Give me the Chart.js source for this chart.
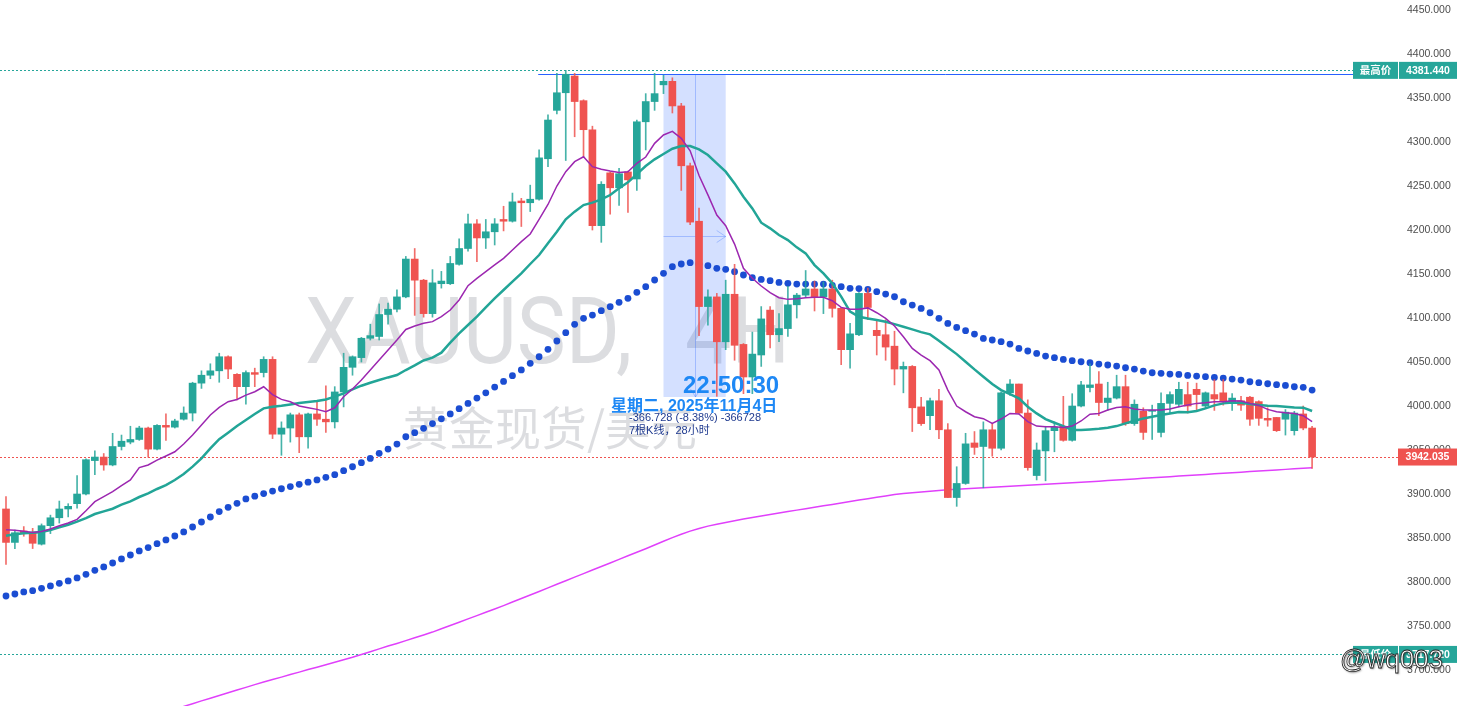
<!DOCTYPE html>
<html><head><meta charset="utf-8">
<script src="https://cdn.jsdelivr.net/npm/chart.js@4.4.1/dist/chart.umd.min.js"></script>
<style>html,body{margin:0;padding:0;background:#fff;overflow:hidden}canvas{display:block}</style>
</head><body>
<canvas id="c" width="1460" height="706"></canvas>
<script>
// ---- Data (4H candles, XAUUSD) ----
const opens = [3883,3845,3858,3856,3843,3864,3873,3883,3889,3900,
3938,3942,3933,3954,3959,3962,3975,3951,3978,3976,
3985,3992,4026,4035,4040,4056,4036,4022,4038,4038,
4053,3968,3975,3990,3965,3991,3985,3982,4016,4044,
4055,4077,4079,4104,4110,4124,4167,4143,4105,4139,
4139,4161,4179,4207,4191,4198,4212,4210,4233,4231,
4235,4281,4336,4356,4375,4347,4314,4205,4265,4248,
4266,4258,4323,4346,4365,4369,4341,4273,4210,4113,
4124,4073,4127,4070,4033,4058,4109,4081,4088,4115,
4126,4133,4124,4133,4111,4064,4081,4128,4086,4081,
4068,4042,4045,3999,3989,4006,3973,3896,3912,3958,
3954,3973,3952,4015,4025,3992,3921,3949,3972,3977,
3961,4000,4021,4025,4004,4009,4022,3980,3994,3994,
3970,4003,4002,4013,4019,4000,4013,4015,4005,4006,
4010,4005,3986,3987,3985,3972,3991,3975];
const highs = [3897,3859,3863,3861,3866,3876,3892,3889,3921,3940,
3949,3946,3969,3967,3977,3977,3976,3979,3991,3985,
3999,4027,4040,4048,4060,4057,4037,4040,4043,4056,
4056,3982,3992,3992,3992,4005,4023,4022,4060,4057,
4078,4093,4116,4117,4132,4170,4179,4144,4155,4153,
4170,4190,4218,4212,4212,4213,4227,4242,4236,4251,
4291,4331,4378,4381.44,4378,4348,4318,4255,4266,4270,
4267,4325,4355,4378,4376,4373,4344,4276,4225,4132,
4128,4143,4161,4071,4084,4113,4113,4105,4136,4128,
4154,4142,4141,4143,4112,4094,4129,4134,4098,4098,
4085,4050,4046,4010,4009,4019,3980,3931,3969,3971,
3982,3980,4016,4030,4025,4007,3958,3977,3982,4011,
4014,4028,4048,4039,4027,4035,4035,4007,3998,4001,
4015,4016,4027,4027,4026,4016,4030,4030,4014,4011,
4011,4006,3998,3987,3996,3994,4000,3977];
const lows = [3820,3838,3852,3838,3842,3855,3867,3874,3884,3899,
3922,3927,3932,3950,3957,3961,3942,3950,3961,3975,
3984,3983,4020,4031,4027,4031,4007,4002,4022,4033,
3963,3944,3959,3947,3952,3978,3970,3975,3999,4035,
4050,4075,4075,4093,4107,4123,4103,4101,4101,4134,
4138,4160,4176,4164,4179,4183,4199,4209,4204,4221,
4234,4272,4332,4279,4306,4283,4200,4186,4218,4228,
4220,4245,4291,4336,4355,4333,4245,4206,4080,4092,
4011,4064,4052,4014,4014,4045,4066,4073,4079,4100,
4124,4108,4105,4101,4047,4043,4080,4098,4058,4052,
4024,4015,3971,3978,3973,3963,3896,3886,3911,3945,
3907,3943,3950,4012,3991,3927,3916,3915,3948,3960,
3960,3999,4016,3989,3995,4008,3978,3978,3962,3962,
3965,3992,3999,3992,3994,3998,3995,4001,3995,3995,
3978,3978,3977,3971,3967,3967,3973,3929];
const closes = [3845,3856,3855,3844,3864,3873,3883,3886,3900,3939,
3942,3933,3954,3960,3962,3975,3951,3978,3976,3983,
3992,4026,4035,4040,4056,4042,4022,4038,4036,4053,
3968,3975,3990,3965,3991,3985,3982,4016,4044,4056,
4077,4080,4104,4110,4124,4167,4143,4105,4140,4142,
4162,4179,4207,4191,4198,4207,4210,4232,4231,4235,
4282,4325,4356,4377,4346,4314,4205,4252,4248,4264,
4257,4323,4346,4355,4369,4341,4273,4209,4113,4124,
4073,4127,4069,4033,4059,4099,4081,4088,4115,4126,
4133,4124,4133,4111,4064,4082,4128,4112,4080,4067,
4042,4045,3998,3980,4006,3973,3896,3912,3957,3953,
3973,3952,4015,4025,3992,3930,3950,3972,3976,3961,
4000,4024,4024,4004,4009,4022,3980,4002,3970,3995,
4003,4013,4019,4000,4013,4015,4008,4005,4009,4001,
3985,3986,3984,3972,3993,3992,3975,3942.035];

// Moving-average lines
const ma10 = [3859.5,3858.7,3857.6,3856.4,3857.5,3860.2,3864.0,3867.0,3871.2,3881.0,
3891.3,3897.0,3902.6,3909.5,3916.0,3930.0,3933.0,3938.6,3943.2,3948.0,
3956.8,3967.0,3978.4,3989.8,3998.5,4004.9,4007.5,4012.4,4016.2,4021.9,
4013.0,4007.5,4004.9,4000.0,3998.0,3996.2,3993.5,3998.0,4010.6,4019.3,
4029.5,4040.9,4052.2,4063.6,4075.0,4087.0,4090.9,4094.0,4095.9,4101.5,
4109.1,4120.5,4136.8,4145.1,4152.7,4160.3,4167.8,4177.3,4186.8,4195.5,
4212.0,4229.0,4250.0,4266.3,4277.7,4283.3,4272.0,4269.0,4267.0,4265.5,
4266.3,4275.8,4283.0,4298.5,4308.0,4312.1,4304.2,4290.0,4262.0,4240.0,
4217.0,4204.9,4184.0,4156.5,4145.1,4136.4,4128.8,4123.1,4121.2,4122.0,
4123.1,4123.5,4123.5,4119.7,4112.1,4109.9,4109.9,4111.5,4106.0,4099.6,
4090.9,4078.7,4065.5,4057.9,4051.5,4040.9,4018.1,4000.0,3993.5,3987.8,
3985.6,3980.3,3985.2,3991.6,3990.9,3982.2,3977.2,3976.5,3976.5,3975.7,
3977.2,3983.0,3990.7,3991.6,3995.4,3998.4,3999.2,3996.6,3995.4,3995.4,
3995.4,3996.6,3999.2,4001.1,4003.0,4003.7,4004.9,4004.9,4006.0,4005.6,
4003.0,4000.7,3996.2,3993.5,3992.4,3991.6,3989.0,3982.2];
const ma20 = [3852.6,3854.2,3855.3,3856.1,3856.8,3859.1,3862.1,3865.1,3868.6,3872.7,
3877.3,3880.3,3883.3,3887.9,3891.7,3896.6,3900.8,3905.7,3910.2,3915.9,
3922.7,3931.1,3940.5,3951.9,3962.3,3969.7,3977.2,3984.1,3990.9,3997.3,
3999.2,4000.3,4001.8,4003.4,4004.5,4005.6,4007.5,4010.6,4014.4,4018.9,
4023.1,4026.5,4029.5,4032.5,4035.2,4040.9,4046.2,4051.8,4055.0,4060.6,
4072.0,4082.6,4092.1,4101.5,4112.1,4122.4,4131.8,4141.3,4150.8,4161.4,
4171.6,4184.9,4198.1,4212.1,4220.9,4228.4,4231.1,4234.9,4239.8,4247.4,
4254.2,4263.6,4272.7,4280.3,4286.4,4292.4,4295.5,4295.5,4291.7,4285.2,
4275.8,4266.3,4253.0,4237.9,4224.6,4208.3,4201.9,4194.3,4188.6,4180.3,
4173.5,4160.2,4150.8,4139.4,4124.3,4107.2,4101.5,4099.4,4097.7,4095.8,
4093.1,4090.1,4087.1,4084.0,4081.4,4074.2,4066.6,4059.0,4050.3,4041.6,
4033.3,4025.0,4018.1,4013.6,4008.7,3999.2,3991.6,3985.2,3981.0,3977.2,
3972.7,3972.7,3973.4,3974.2,3975.3,3977.2,3980.3,3983.3,3985.9,3987.8,
3989.7,3991.6,3993.1,3992.8,3994.3,3997.3,4000.7,4003.0,4004.1,4003.7,
4002.2,4001.1,4000.3,3999.9,3999.2,3998.4,3998.1,3994.3];
const ma60 = [3784.1,3786.4,3788.7,3790.2,3792.8,3795.5,3798.5,3801.2,3804.6,3808.7,
3813.3,3817.1,3821.6,3826.2,3830.7,3835.3,3839.1,3843.6,3847.8,3852.3,
3856.9,3862.5,3868.2,3873.9,3880.0,3884.9,3889.4,3894.4,3897.5,3900.5,
3903.3,3906.0,3908.5,3911.0,3913.5,3916.0,3919.0,3922.0,3926.5,3931.0,
3935.6,3940.5,3946.2,3951.1,3956.8,3965.1,3969.7,3974.6,3980.0,3985.5,
3991.0,3997.0,4003.0,4009.0,4015.0,4021.5,4028.0,4034.5,4041.0,4048.5,
4056.0,4064.4,4073.9,4083.3,4092.8,4099.6,4103.4,4108.3,4112.9,4117.8,
4122.4,4129.2,4135.6,4143.2,4150.8,4158.3,4161.4,4162.9,4161.5,4159.5,
4156.5,4155.3,4152.7,4148.9,4145.8,4143.9,4142.4,4140.5,4139.4,4138.6,
4138.6,4138.6,4138.6,4137.1,4135.6,4133.7,4133.5,4132.6,4129.9,4127.2,
4124.2,4118.5,4114.7,4110.9,4106.0,4099.6,4093.9,4089.3,4085.6,4081.8,
4076.8,4075.0,4073.1,4070.4,4065.5,4062.5,4059.8,4056.8,4054.9,4053.0,
4051.5,4050.3,4049.2,4047.7,4046.6,4045.4,4043.5,4042.0,4039.7,4037.8,
4037.1,4036.3,4035.9,4034.8,4034.0,4033.3,4032.5,4031.8,4030.6,4029.5,
4027.6,4026.5,4025.3,4024.2,4023.4,4021.9,4021.2,4018.1];
const ma200 = [null,null,null,null,null,null,null,null,null,null,
null,null,null,null,null,null,null,null,null,3655.6,
3658.6,3661.7,3664.9,3668.0,3671.0,3674.1,3677.3,3680.3,3683.4,3686.4,
3689.2,3691.9,3694.8,3697.6,3700.5,3703.2,3706.0,3708.8,3711.6,3714.5,
3717.7,3720.8,3724.0,3727.2,3730.2,3733.4,3736.6,3739.8,3743.1,3746.8,
3750.6,3754.3,3758.1,3761.8,3765.6,3769.3,3773.2,3777.3,3781.3,3785.3,
3789.3,3793.4,3797.5,3801.5,3805.5,3809.5,3813.6,3817.6,3821.6,3825.7,
3829.8,3833.8,3837.8,3842.0,3846.3,3850.5,3854.3,3857.8,3860.9,3863.5,
3865.7,3867.7,3869.6,3871.5,3873.3,3875.0,3876.7,3878.4,3880.1,3881.7,
3883.3,3884.9,3886.6,3888.2,3889.8,3891.4,3893.1,3894.7,3896.3,3897.8,
3899.5,3900.6,3901.5,3902.4,3903.2,3904.1,3904.8,3905.4,3906.0,3906.5,
3907.1,3907.7,3908.3,3908.8,3909.4,3910.0,3910.5,3911.1,3911.7,3912.3,
3912.8,3913.4,3914.0,3914.6,3915.3,3915.9,3916.5,3917.2,3917.8,3918.5,
3919.1,3919.7,3920.4,3921.0,3921.6,3922.3,3922.9,3923.5,3924.2,3924.8,
3925.5,3926.1,3926.7,3927.4,3928.0,3928.6,3929.3,3929.9];

const yTicks = [3700,3750,3800,3850,3900,3950,4000,4050,4100,4150,4200,4250,4300,4350,4400,4450];
const highPrice = 4381.44, lowPrice = 3717.72, lastPrice = 3942.035;
const rayPrice = 4377.3, rayStart = 59.9;
const rangeStart = 74, rangeEnd = 81, rangeTop = 4377.0, rangeBottom = 4010.272;
const symbolText = 'XAUUSD,', tfText = '4H', symbolCN = '黄金现货/美元';
const clockText = '22:50:30', dateText = '星期二, 2025年11月4日';
const rangeText1 = '-366.728 (-8.38%) -366728', rangeText2 = '7根K线，28小时';
const highTag = '最高价', lowTag = '最低价', author = '@wq003';

// ---- build ----
const UP = '#26a69a', DOWN = '#ef5350';
const idx = closes.map((_, i) => i);
const up = idx.map(i => closes[i] >= opens[i]);
const bodyCol = up.map(u => u ? UP : DOWN);
const wickCol = up.map(u => u ? 'rgba(38,166,154,0.85)' : 'rgba(239,83,80,0.85)');
const line = arr => idx.map(i => ({x: i, y: arr[i]}));
const LATIN = '"Liberation Sans", Arial, sans-serif';
const MIXED = '"Liberation Sans", "Noto Sans CJK SC", sans-serif';

function tag(ctx, x0, x1, yc, h, bg, text, font) {
  ctx.fillStyle = bg;
  ctx.fillRect(x0, yc - h / 2, x1 - x0, h);
  ctx.fillStyle = '#fff';
  ctx.font = font;
  ctx.textAlign = 'center';
  ctx.textBaseline = 'middle';
  ctx.fillText(text, (x0 + x1) / 2, yc + 0.5);
}

const overlay = {
  id: 'overlay',
  beforeDatasetsDraw(chart) {
    const {ctx, scales: {x, y}} = chart;
    ctx.save();
    // watermark
    ctx.fillStyle = 'rgba(140,143,153,0.3)';
    ctx.textBaseline = 'alphabetic';
    ctx.textAlign = 'left';
    ctx.font = '92px Roboto';
    const sx = 315 / ctx.measureText('XAUUSD').width;
    ctx.save(); ctx.translate(305, 363); ctx.scale(sx, 1); ctx.fillText(symbolText, 0, 0); ctx.restore();
    ctx.save(); ctx.translate(685, 363); ctx.scale(sx, 1); ctx.fillText(tfText, 0, 0); ctx.restore();
    ctx.font = '46px "Noto Sans CJK SC"';
    ctx.textBaseline = 'middle';
    ctx.fillText(symbolCN, 403, 428);

    // date/price range box
    const x0 = x.getPixelForValue(rangeStart), x1 = x.getPixelForValue(rangeEnd);
    const yt = y.getPixelForValue(rangeTop), yb = y.getPixelForValue(rangeBottom);
    ctx.fillStyle = 'rgba(41,98,255,0.2)';
    ctx.fillRect(x0, yt, x1 - x0, yb - yt);
    ctx.strokeStyle = 'rgba(41,98,255,0.3)';
    ctx.lineWidth = 1;
    const ym = Math.round((yt + yb) / 2) + 0.5;
    const xm = Math.round(x.getPixelForValue((rangeStart + rangeEnd) / 2)) + 0.5;
    ctx.beginPath();
    ctx.moveTo(x0, ym); ctx.lineTo(x1, ym);
    ctx.moveTo(x1 - 9, ym - 6); ctx.lineTo(x1, ym); ctx.lineTo(x1 - 9, ym + 6);
    ctx.moveTo(xm, yt); ctx.lineTo(xm, yb);
    ctx.moveTo(xm - 5, yb - 8); ctx.lineTo(xm, yb); ctx.lineTo(xm + 5, yb - 8);
    ctx.stroke();

    // price lines
    const yH = Math.round(y.getPixelForValue(highPrice)) + 0.5;
    const yL = Math.round(y.getPixelForValue(lowPrice)) + 0.5;
    const yC = Math.round(y.getPixelForValue(lastPrice)) + 0.5;
    ctx.setLineDash([2, 2]);
    ctx.strokeStyle = UP;
    ctx.beginPath(); ctx.moveTo(0, yH); ctx.lineTo(1353, yH); ctx.stroke();
    ctx.beginPath(); ctx.moveTo(0, yL); ctx.lineTo(1353, yL); ctx.stroke();
    ctx.strokeStyle = DOWN;
    ctx.beginPath(); ctx.moveTo(0, yC); ctx.lineTo(1398, yC); ctx.stroke();
    ctx.setLineDash([]);
    const yR = Math.round(y.getPixelForValue(rayPrice)) + 0.5;
    ctx.strokeStyle = '#2962ff';
    ctx.beginPath(); ctx.moveTo(x.getPixelForValue(rayStart), yR); ctx.lineTo(1353, yR); ctx.stroke();
    ctx.restore();
  },
  afterDraw(chart) {
    const {ctx, scales: {y}} = chart;
    ctx.save();
    // measurement texts
    ctx.textAlign = 'left';
    ctx.fillStyle = '#1e88f5';
    ctx.textBaseline = 'alphabetic';
    ctx.font = 'bold 24px ' + LATIN;
    ctx.fillText(clockText, 683, 393);
    ctx.font = 'bold 16px ' + MIXED;
    ctx.fillText(dateText, 611, 411);
    ctx.fillStyle = '#1f3a8f';
    ctx.textBaseline = 'middle';
    ctx.font = '11px ' + MIXED;
    ctx.fillText(rangeText1, 629, 418);
    ctx.fillText(rangeText2, 629, 431);

    // right price tags
    const yH = y.getPixelForValue(highPrice), yL = y.getPixelForValue(lowPrice), yC = y.getPixelForValue(lastPrice);
    const f = 'bold 10.5px ' + MIXED;
    tag(ctx, 1353, 1398, yH, 17, UP, highTag, f);
    tag(ctx, 1399, 1457, yH, 17, UP, highPrice.toFixed(3), f);
    tag(ctx, 1353, 1398, yL, 17, UP, lowTag, f);
    tag(ctx, 1399, 1457, yL, 17, UP, lowPrice.toFixed(3), f);
    tag(ctx, 1398, 1457, yC, 17, DOWN, lastPrice.toFixed(3), f);

    // author watermark
    ctx.font = '26px ' + LATIN;
    ctx.textAlign = 'left';
    ctx.textBaseline = 'alphabetic';
    ctx.shadowColor = 'rgba(0,0,0,0.5)';
    ctx.shadowBlur = 2;
    ctx.shadowOffsetX = 1; ctx.shadowOffsetY = 1;
    ctx.fillStyle = '#fff';
    ctx.fillText(author, 1340, 668);
    ctx.shadowColor = 'transparent';
    ctx.lineWidth = 0.8;
    ctx.strokeStyle = '#222';
    ctx.strokeText(author, 1340, 668);
    ctx.restore();
  }
};

new Chart(document.getElementById('c'), {
  data: {
    datasets: [
      {type: 'line', label: 'MA10', data: line(ma10), borderColor: '#9c27b0', borderWidth: 1.5, pointRadius: 0, tension: 0, order: 0},
      {type: 'line', label: 'MA20', data: line(ma20), borderColor: '#22a597', borderWidth: 2.5, pointRadius: 0, tension: 0, order: 1},
      {type: 'bar', label: 'body', data: idx.map(i => ({x: i, y: [opens[i], closes[i]]})), backgroundColor: bodyCol, barThickness: 7, minBarLength: 1, grouped: false, order: 2},
      {type: 'bar', label: 'wick', data: idx.map(i => ({x: i, y: [lows[i], highs[i]]})), backgroundColor: wickCol, barThickness: 1, grouped: false, order: 3},
      {type: 'line', label: 'MA200', data: line(ma200), borderColor: '#e040fb', borderWidth: 1.5, pointRadius: 0, tension: 0, order: 4},
      {type: 'line', label: 'MA60', data: line(ma60), showLine: false, pointRadius: 3.4, pointHoverRadius: 0, pointBorderWidth: 0, pointBackgroundColor: '#1b4dd2', order: 5}
    ]
  },
  options: {
    responsive: false, animation: false, devicePixelRatio: 1, events: [],
    layout: {padding: 0, autoPadding: false},
    plugins: {legend: {display: false}, tooltip: {enabled: false}},
    scales: {
      x: {type: 'linear', display: false, offset: false, min: -0.675, max: 156.33},
      y: {
        position: 'right', min: 3659.1, max: 4461.4,
        grid: {display: false, drawTicks: false}, border: {display: false},
        ticks: {autoSkip: false, padding: 12, color: '#4d4d4d', font: {family: LATIN, size: 10.5},
          callback: v => Number(v).toFixed(3)},
        afterBuildTicks: s => { s.ticks = yTicks.map(v => ({value: v})); },
        afterFit: s => { s.width = 65; s.paddingTop = 0; s.paddingBottom = 0; }
      }
    }
  },
  plugins: [overlay]
});
</script>
</body></html>
